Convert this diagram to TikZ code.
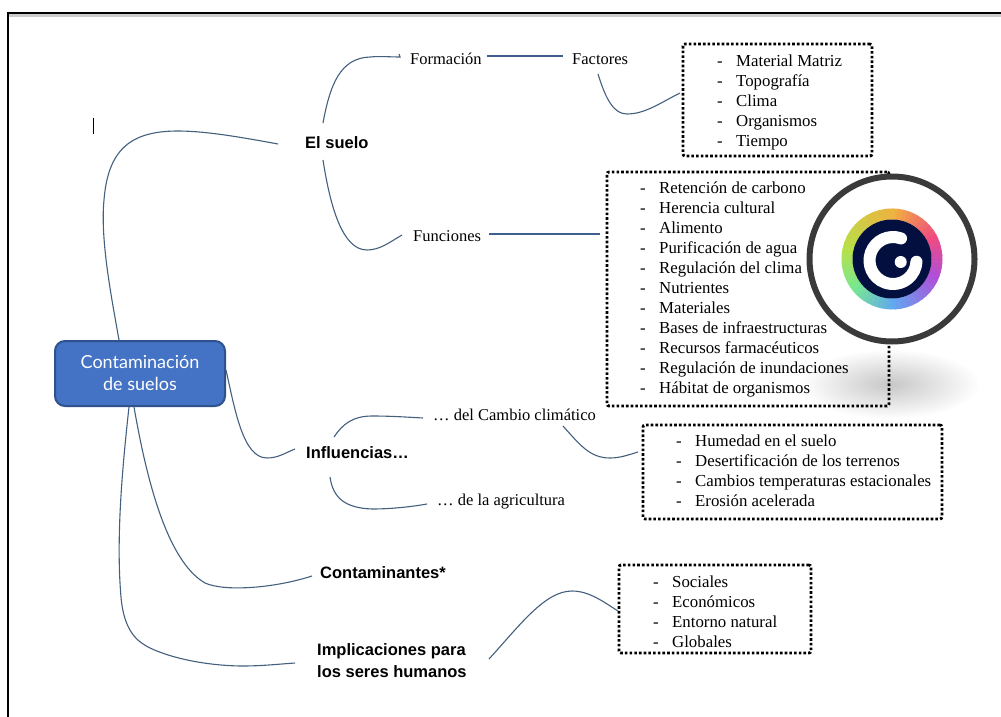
\documentclass[tikz,border=0pt]{standalone}
\usepackage{fontspec}
\setmainfont{Liberation Serif}
\newfontfamily\headfont{Liberation Sans}
\newfontfamily\rootfont{Lato}
\definecolor{linkc}{HTML}{44607F}
\definecolor{thickc}{HTML}{3F5F8F}
\definecolor{rootfill}{HTML}{4472C4}
\definecolor{rootedge}{HTML}{2F528F}
\definecolor{ringdark}{HTML}{3A3A3A}
\definecolor{logodark}{HTML}{03103F}
\definecolor{rA}{HTML}{F0B040}
\definecolor{rB}{HTML}{F04A80}
\definecolor{rC}{HTML}{B050D8}
\definecolor{rD}{HTML}{60A8F0}
\definecolor{rE}{HTML}{78E890}
\definecolor{rF}{HTML}{B8E048}
\tikzset{
  link/.style={draw=linkc,line width=1.1pt},
  thicklink/.style={draw=thickc,line width=1.7pt},
  plain/.style={font=\fontsize{16.5}{20}\selectfont,text=black,inner sep=0pt},
  head/.style={font=\headfont\bfseries\fontsize{16.5}{22}\selectfont,text=black,inner sep=0pt,align=left},
  rootbox/.style={draw=rootedge,fill=rootfill,line width=2pt,rounded corners=10pt,minimum width=170pt,minimum height=65pt,inner sep=0pt,text=white,align=center,font=\rootfont\fontsize{18}{22}\selectfont},
  listbox/.style={draw=black,line width=2.8pt,dash pattern=on 2.6pt off 2.1pt,rounded corners=2pt,inner sep=0pt},
  listtext/.style={inner sep=0pt,anchor=west,align=left,font=\fontsize{16.8}{20}\selectfont,text=black}
}
\newcommand{\lrow}[1]{\makebox[19pt][l]{-}#1}
\begin{document}
\begin{tikzpicture}[x=1pt,y=-1pt]
\path[use as bounding box] (0,0) rectangle (1001,717);
\fill[white] (0,0) rectangle (1001,717);
% page frame
\fill[black!20] (8,14.5) rectangle (1001,16.6);
\fill[black] (7,12.2) rectangle (1001,14.5);
\fill[black] (7,12.2) rectangle (9,717);
% cursor
\draw[black,line width=0.9pt] (93,117.5) -- (93,134);
% shadow under the lens
\shade[inner color=black!22,outer color=white] (890,384) ellipse [x radius=90pt,y radius=35pt];
% nodes
\node[rootbox] (root) at (140,373.5) {\raisebox{-1pt}{Contaminación}\\\raisebox{-1pt}{de suelos}};
\node[head,anchor=west] (suelo) at (305,143) {El suelo};
\node[head,anchor=west] (influ) at (306,453) {Influencias…};
\node[head,anchor=west] (conta) at (320,573) {Contaminantes*};
\node[head,anchor=west] (impli) at (317,661) {Implicaciones para\\los seres humanos};
\node[plain,anchor=west] (forma) at (410,59) {Formación};
\node[plain,anchor=west] (facto) at (572,59) {Factores};
\node[plain,anchor=west] (funci) at (413,236) {Funciones};
\node[plain,anchor=west] (cambio) at (433,415) {… del Cambio climático};
\node[plain,anchor=west] (agri) at (437,502) {… de la agricultura};
\node[listbox,minimum width=189pt,minimum height=112pt] (boxA) at (777.5,100) {};
\node[listtext] (listA) at (717,102) {\lrow{Material Matriz}\\\lrow{Topografía}\\\lrow{Clima}\\\lrow{Organismos}\\\lrow{Tiempo}};
\node[listbox,minimum width=282pt,minimum height=234pt] (boxB) at (748,289) {};
\node[listtext] (listB) at (640,289.5) {\lrow{Retención de carbono}\\\lrow{Herencia cultural}\\\lrow{Alimento}\\\lrow{Purificación de agua}\\\lrow{Regulación del clima}\\\lrow{Nutrientes}\\\lrow{Materiales}\\\lrow{Bases de infraestructuras}\\\lrow{Recursos farmacéuticos}\\\lrow{Regulación de inundaciones}\\\lrow{Hábitat de organismos}};
\node[listbox,minimum width=299pt,minimum height=94pt] (boxC) at (792.5,472) {};
\node[listtext] (listC) at (676,471) {\lrow{Humedad en el suelo}\\\lrow{Desertificación de los terrenos}\\\lrow{Cambios temperaturas estacionales}\\\lrow{Erosión acelerada}};
\node[listbox,minimum width=192pt,minimum height=88pt] (boxD) at (715,609) {};
\node[listtext] (listD) at (653,611.5) {\lrow{Sociales}\\\lrow{Económicos}\\\lrow{Entorno natural}\\\lrow{Globales}};
% connector ends
\coordinate (rootN) at (119,340);
\coordinate (rootE) at (226,370);
\coordinate (rootSa) at (134,407);
\coordinate (rootSb) at (129,407);
\coordinate (sueloW) at (278,144);
\coordinate (sueloNE) at (323,123);
\coordinate (sueloSE) at (323,160);
\coordinate (formaW) at (400,57);
\coordinate (funciW) at (402,235);
\coordinate (formaE) at (487,56);
\coordinate (factoW) at (563,56);
\coordinate (funciE) at (489,234);
\coordinate (boxBW) at (600,234);
\coordinate (factoS) at (598,74);
\coordinate (boxAW) at (680,93);
\coordinate (influW) at (295,449);
\coordinate (influN) at (334,437);
\coordinate (influS) at (330,477);
\coordinate (cambioW) at (423,418);
\coordinate (agriW) at (427,504);
\coordinate (cambioS) at (563,426);
\coordinate (boxCW) at (638,452);
\coordinate (contaW) at (312,576);
\coordinate (impliW) at (295,663);
\coordinate (impliE) at (489,659);
\coordinate (boxDW) at (618,611);
% connectors
\draw[link] (rootN) .. controls (112,300) and (100,240) .. (104,200) .. controls (108,150) and (130,131) .. (178,131) .. controls (205,131) and (240,137) .. (sueloW);
\draw[link] (rootE) .. controls (235,410) and (243,458) .. (267,458) .. controls (278,458) and (285,453) .. (influW);
\draw[link] (rootSa) .. controls (145,470) and (165,560) .. (205,583) .. controls (225,592) and (275,588) .. (contaW);
\draw[link] (rootSb) .. controls (122,470) and (116,540) .. (121,597) .. controls (124,632) and (138,642) .. (150,648) .. controls (180,662) and (220,666) .. (243,666) .. controls (262,666) and (280,664) .. (impliW);
\draw[link] (sueloNE) .. controls (330,85) and (340,58) .. (370,57) .. controls (380,56) and (390,57) .. (formaW) -- (399,54);
\draw[link] (sueloSE) .. controls (330,205) and (342,250) .. (367,250) .. controls (380,250) and (390,242) .. (funciW);
\draw[thicklink] (formaE) -- (factoW);
\draw[thicklink] (funciE) -- (boxBW);
\draw[link] (factoS) .. controls (606,100) and (614,114) .. (627,114) .. controls (645,114) and (660,103) .. (boxAW);
\draw[link] (influN) .. controls (342,425) and (352,416) .. (372,416) .. controls (390,416) and (405,417) .. (cambioW);
\draw[link] (influS) .. controls (333,498) and (345,508) .. (372,509) .. controls (390,509) and (410,507) .. (agriW);
\draw[link] (cambioS) .. controls (580,445) and (590,458) .. (610,458) .. controls (620,458) and (628,455) .. (boxCW);
\draw[link] (impliE) .. controls (520,625) and (545,591) .. (572,591) .. controls (590,591) and (605,603) .. (boxDW);
% lens with logo
\coordinate (lens) at (892,259);
\fill[white] (lens) circle [radius=82pt];
\draw[ringdark,line width=6pt] (lens) circle [radius=82.5pt];
\foreach \sa/\sb/\ca/\cb in {90/30/rA/rB,30/-20/rB/rC,-20/-85/rC/rD,-85/-140/rD/rE,-140/-190/rE/rF,-190/-270/rF/rA}{
  \foreach \i in {0,...,9}{
    \pgfmathsetmacro\ang{\sa+(\sb-\sa)*\i/10}
    \pgfmathsetmacro\angb{\sa+(\sb-\sa)*(\i+1.3)/10}
    \pgfmathtruncatemacro\pct{100-\i*10}
    \draw[\ca!\pct!\cb,line width=11pt] (lens) ++(\ang:45pt) arc [start angle=\ang,end angle=\angb,radius=45pt];
  }
}
\fill[logodark] (lens) circle [radius=39.5pt];
\draw[white,line width=12pt,line cap=round] (893,260.5) ++(70:23.5pt) arc [start angle=70,end angle=357,radius=23.5pt];
\fill[white] (900.7,262) circle [radius=6pt];
\end{tikzpicture}
\end{document}
